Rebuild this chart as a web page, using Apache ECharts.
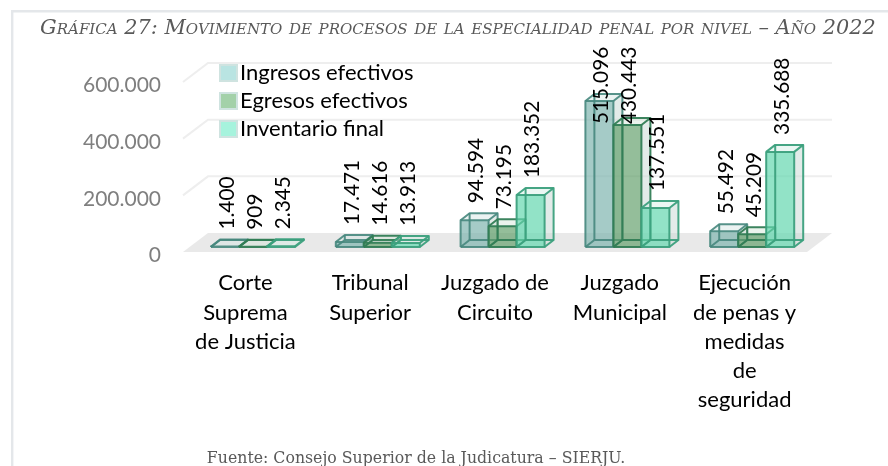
<!DOCTYPE html>
<html><head><meta charset="utf-8">
<style>html,body{margin:0;padding:0;background:#fff}#c{width:888px;height:466px}</style>
<script src="https://cdn.jsdelivr.net/npm/echarts@6/dist/echarts.min.js"></script>
</head><body><div id="c"></div>
<script>
const categories = ['Corte\nSuprema\nde Justicia','Tribunal\nSuperior','Juzgado de\nCircuito','Juzgado\nMunicipal','Ejecución\nde penas y\nmedidas\nde\nseguridad'];
const ingresos = [1400,17471,94594,515096,55492];
const egresos = [909,14616,73195,430443,45209];
const inventario = [2345,13913,183352,137551,335688];
const yTicks = [0,200000,400000,600000];
const seriesNames = ['Ingresos efectivos','Egresos efectivos','Inventario final'];
const titleText = 'Gráfica 27: Movimiento de procesos de la especialidad penal por nivel – Año 2022';
const sourceText = 'Fuente: Consejo Superior de la Judicatura – SIERJU.';

const FONT = 'Lato';
const fmt = v => String(v).replace(/\B(?=(\d{3})+(?!\d))/g,'.');
const depthX = 9, depthY = 7, wallX = 25, wallY = 19, insetX = 7.6, insetY = 5;
const styles = [
  {front:'rgba(122,178,173,0.68)', side:'rgba(200,216,212,0.5)', top:'rgba(205,225,222,0.4)', edge:'rgba(70,135,125,0.9)', swatch:'#b9e4e2'},
  {front:'rgba(90,155,100,0.65)', side:'rgba(200,216,212,0.5)', top:'rgba(205,225,210,0.4)', edge:'rgba(50,125,85,0.95)', swatch:'#a3d1a9'},
  {front:'rgba(100,215,175,0.7)', side:'rgba(200,216,212,0.5)', top:'rgba(205,235,225,0.4)', edge:'rgba(60,160,125,0.95)', swatch:'#a6f3dd'}
];

function wallRender(params, api){
  const cs = params.coordSys, v = api.value(0), p0 = api.coord([0, v]), y = p0[1];
  const x0 = cs.x, x1 = cs.x + cs.width;
  const s = {stroke:'#eeeeee', lineWidth:2, fill:null};
  const kids = [
    {type:'polyline', shape:{points:[[x0,y],[x0+wallX,y-wallY],[x1+wallX,y-wallY]]}, style:s, silent:true}
  ];
  if (v === 0) kids.length = 0, kids.push({type:'polygon', shape:{points:[[x0,y],[x1,y],[x1+wallX,y-wallY],[x0+wallX,y-wallY]]}, style:{fill:'#e9e9e9'}, silent:true});
  return {type:'group', children:kids};
}
function barRender(si){
  return function(params, api){
    const c = api.value(0), v = api.value(1);
    const base = api.coord([c,0]), topP = api.coord([c,v]);
    const w = api.size([1,0])[0] * 84/124.8/3;
    const L = base[0] + insetX + (si-1.5)*w, R = L + w;
    const B = base[1] - insetY, T = topP[1] - insetY;
    const st = styles[si];
    const e = {stroke:st.edge, lineWidth:2, fill:null, lineJoin:'round'};
    const dx = depthX, dy = depthY;
    const poly = (pts, fill) => ({type:'polygon', shape:{points:pts}, style:{fill}, z2:si*3, silent:true});
    const line = pts => ({type:'polyline', shape:{points:pts}, style:e, z2:si*3+1, silent:true});
    // clamped so that tall labels stay inside the chart area, as in the reference
    const labelY = Math.max(T - dy - 10, 124);
    return {type:'group', children:[
      poly([[R,B],[R+dx,B-dy],[R+dx,T-dy],[R,T]], st.side),
      poly([[L,T],[R,T],[R+dx,T-dy],[L+dx,T-dy]], st.top),
      poly([[L,B],[R,B],[R,T],[L,T]], st.front),
      line([[L+dx,B-dy],[R+dx,B-dy]]),
      line([[L+dx,B-dy],[L+dx,T-dy]]),
      line([[L+dx,B-dy],[L,B]]),
      line([[L,B],[R,B],[R,T],[L,T],[L,B]]),
      line([[R,B],[R+dx,B-dy],[R+dx,T-dy],[R,T]]),
      line([[L,T],[L+dx,T-dy],[R+dx,T-dy]]),
      {type:'text', x:(L+R)/2+2, y:labelY, rotation:Math.PI/2, z2:100, silent:true,
       style:{text:fmt(v), fill:'#000', font:'20.8px '+FONT, textAlign:'left', textVerticalAlign:'middle'}}
    ]};
  };
}
const barData = [ingresos,egresos,inventario];
const series = [
  {type:'custom', name:'pared', coordinateSystem:'cartesian2d', renderItem:wallRender, z:1, silent:true,
   encode:{y:0}, data:yTicks.map(t=>[t]), tooltip:{show:false}},
].concat(seriesNames.map((n,si)=>({
  type:'custom', name:n, coordinateSystem:'cartesian2d', renderItem:barRender(si), z:2,
  encode:{x:0,y:1}, itemStyle:{color:styles[si].swatch, borderColor:'#cfe3e0', borderWidth:1},
  data:barData[si].map((v,i)=>[i,v])
})));

const chart = echarts.init(document.getElementById('c'), null, {renderer:'canvas'});
chart.setOption({
  animation:false,
  backgroundColor:'#fff',
  grid:{left:183, top:82, width:624, height:170, containLabel:false},
  legend:{data:seriesNames, orient:'vertical', left:219, top:62, padding:0, icon:'rect', itemWidth:17, itemHeight:16, itemGap:6,
    textStyle:{fontFamily:FONT, fontSize:22, color:'#000', lineHeight:20, padding:[0,0,0,-2]}},
  xAxis:{type:'category', data:categories, axisLine:{show:false}, axisTick:{show:false}, splitLine:{show:false},
    axisLabel:{interval:0, margin:16.5, fontFamily:FONT, fontSize:22, color:'#000', lineHeight:29.3, align:'center', hideOverlap:false}},
  yAxis:{type:'value', min:0, max:600000, interval:200000, axisLine:{show:false}, axisTick:{show:false}, splitLine:{show:false},
    axisLabel:{margin:22, fontFamily:FONT, fontSize:21, color:'#7f7f7f', verticalAlign:'top', lineHeight:7, formatter:v=>fmt(v)}},
  series,
  graphic:[
    {type:'rect', shape:{x:11,y:10,width:877,height:2.4}, style:{fill:'#e4e7ea'}, silent:true},
    {type:'rect', shape:{x:11,y:10,width:2.4,height:456}, style:{fill:'#e4e7ea'}, silent:true},
    {type:'text', x:458, y:29, style:{text:titleText, fill:'#595959', font:'italic small-caps 20.9px "DejaVu Serif"', textAlign:'center', textVerticalAlign:'middle'}, silent:true},
    {type:'text', x:416, y:459, style:{text:sourceText, fill:'#595959', font:'15.75px "DejaVu Serif"', textAlign:'center', textVerticalAlign:'middle'}, silent:true}
  ]
});
</script></body></html>
